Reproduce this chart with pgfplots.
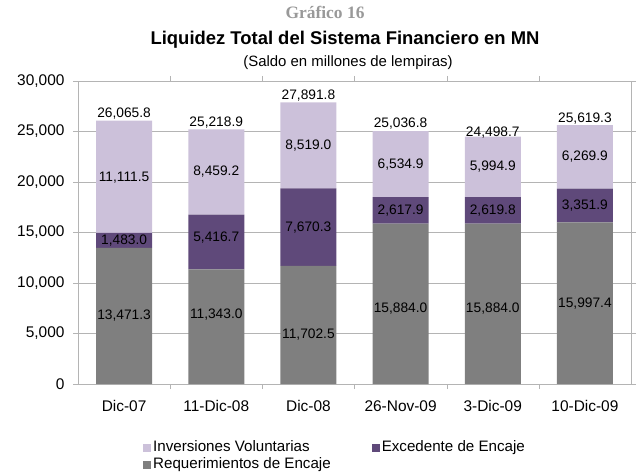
\documentclass[border=0pt]{standalone}
\usepackage{fontspec}
\setmainfont{Liberation Sans}
\newfontfamily\timesf{Liberation Serif}
\usepackage{pgfplots}
\pgfplotsset{compat=1.18}
\definecolor{cInv}{HTML}{CCC1DA}
\definecolor{cExc}{HTML}{5F497A}
\definecolor{cReq}{HTML}{7F7F7F}
\definecolor{cGrid}{HTML}{B4B4B4}
\begin{document}
\begin{tikzpicture}[x=1bp,y=1bp]
\path (0,0) rectangle (639,473);
\node[anchor=base, font=\timesf\bfseries\fontsize{17.5}{19}\selectfont, text=black!40] at (325,454) {Gráfico 16};
\node[anchor=base, font=\bfseries\fontsize{18.5}{21}\selectfont] at (345,428) {Liquidez Total del Sistema Financiero en MN};
\node[anchor=base, font=\fontsize{15}{17}\selectfont] at (348,406.5) {(Saldo en millones de lempiras)};
\begin{axis}[
  at={(78bp,89bp)}, anchor=south west,
  scale only axis, width=553bp, height=303bp,
  ybar stacked, bar width=56bp,
  xmin=-0.5, xmax=5.5, ymin=0, ymax=30000,
  xtick={0,1,2,3,4,5},
  xticklabels={Dic-07,11-Dic-08,Dic-08,26-Nov-09,3-Dic-09,10-Dic-09},
  minor xtick={0.5,1.5,2.5,3.5,4.5},
  major x tick style={draw=none},
  minor x tick style={cGrid},
  tick align=outside,
  ytick={0,5000,...,30000},
  y tick style={cGrid},
  major tick length=5bp, minor tick length=5bp,
  yticklabel style={xshift=-5bp, /pgf/number format/.cd,1000 sep={,},fixed},
  scaled y ticks=false,
  /pgf/number format/assume math mode=true,
  ticklabel style={font=\fontsize{15.5}{17}\selectfont},
  xticklabel style={yshift=-8bp},
  ymajorgrids, grid style={cGrid, line width=0.8bp},
  axis line style={cGrid, line width=0.8bp},
  legend columns=2, reverse legend, legend cell align=left,
  legend style={at={(0.1175,-0.1815)}, anchor=north west, draw=none,
    inner sep=0pt,
    font=\fontsize{15.2}{17}\selectfont,
    nodes={inner xsep=1bp, inner ysep=1.5bp, text height=11bp, text depth=3bp},
    /tikz/every odd column/.append style={column sep=1bp},
    /tikz/every even column/.append style={column sep=40bp}},
  legend image code/.code={\fill[#1] (0bp,-4bp) rectangle (8bp,4bp);},
]
\addplot[fill=cReq, draw=none] coordinates {(0,13471.3) (1,11343.0) (2,11702.5) (3,15884.0) (4,15884.0) (5,15997.4)};
\addlegendentry{Requerimientos de Encaje}
\addplot[fill=cExc, draw=none] coordinates {(0,1483.0) (1,5416.7) (2,7670.3) (3,2617.9) (4,2619.8) (5,3351.9)};
\addlegendentry{Excedente de Encaje}
\addplot[fill=cInv, draw=none] coordinates {(0,11111.5) (1,8459.2) (2,8519.0) (3,6534.9) (4,5994.9) (5,6269.9)};
\addlegendentry{Inversiones Voluntarias}
\end{axis}
\begin{axis}[
  at={(78bp,89bp)}, anchor=south west,
  scale only axis, width=553bp, height=303bp,
  xmin=-0.5, xmax=5.5, ymin=0, ymax=30000,
  hide axis,
  nodes near coords={\pgfplotspointmeta},
  point meta=explicit symbolic,
  every node near coord/.append style={anchor=center, font=\fontsize{13.8}{15}\selectfont, inner sep=0pt},
]
\addplot[draw=none, mark=none] table[meta=lab] {
x y lab
0 6735.65 13,471.3
1 6830 11,343.0
2 4850 11,702.5
3 7425 15,884.0
4 7425 15,884.0
5 7998.7 15,997.4
0 14230 1,483.0
1 14450 5,416.7
2 15500 7,670.3
3 17192.95 2,617.9
4 17193.9 2,619.8
5 17673.35 3,351.9
0 20400 11,111.5
1 20989.3 8,459.2
2 23632.3 8,519.0
3 21769.35 6,534.9
4 21501.25 5,994.9
5 22484.25 6,269.9
0 26765.8 26,065.8
1 25918.9 25,218.9
2 28591.8 27,891.8
3 25736.8 25,036.8
4 24898.7 24,498.7
5 26319.3 25,619.3
};
\end{axis}
\end{tikzpicture}
\end{document}
